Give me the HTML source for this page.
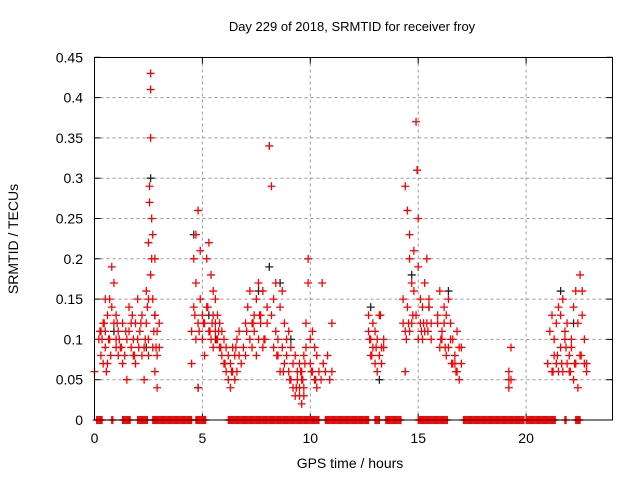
<!DOCTYPE html>
<html><head><meta charset="utf-8"><style>
body{margin:0;background:#fff;}
svg{display:block;font-family:"Liberation Sans",sans-serif;}
</style></head><body>
<svg id="chart" width="640" height="480" viewBox="0 0 640 480">
<text x="352" y="31" font-size="13" text-anchor="middle" fill="#000">Day 229 of 2018, SRMTID for receiver froy</text>
<text x="350" y="468" font-size="14" text-anchor="middle">GPS time / hours</text>
<text transform="translate(18,239) rotate(-90)" font-size="14" text-anchor="middle">SRMTID / TECUs</text>
<g id="grid"></g>
<g id="ticks"></g>
<g id="black"></g>
<g id="red"></g>
<rect x="94.5" y="57.5" width="518" height="362.5" fill="none" stroke="#000" stroke-width="1"/>
</svg>
<script>
const xTicks=[0,5,10,15,20];
const yTicks=[0,0.05,0.1,0.15,0.2,0.25,0.3,0.35,0.4,0.45];
const yTickLabels=["0","0.05","0.1","0.15","0.2","0.25","0.3","0.35","0.4","0.45"];
const hours=[0,0.2,0.3,0.3,0.4,0.4,0.5,0.5,0.5,0.6,0.6,0.7,0.7,0.8,0.8,0.9,0.9,1.0,1.0,1.0,1.1,1.1,1.2,1.3,1.3,1.4,1.5,1.5,1.6,1.6,1.7,1.7,1.8,1.8,1.9,1.9,2.0,2.0,2.1,2.2,2.2,2.3,2.3,2.4,2.4,2.5,2.5,2.5,2.5,2.55,2.55,2.6,2.6,2.6,2.6,2.65,2.65,2.7,2.7,2.7,2.8,2.8,2.8,2.9,2.9,2.9,3.0,3.0,
0.25,0.35,0.45,0.55,0.65,0.75,1.05,1.15,1.25,1.45,1.75,1.85,2.05,2.15,2.35,2.45,2.75,2.85,
4.5,4.5,4.6,4.6,4.7,4.7,4.7,4.8,4.8,4.8,4.9,4.9,5.0,5.0,5.1,5.1,5.2,5.2,5.3,5.3,5.4,5.4,5.5,5.5,5.5,5.6,5.6,5.6,5.7,5.7,5.8,5.8,5.9,5.9,6.0,6.0,6.1,6.1,6.2,6.2,6.3,6.3,6.4,6.4,6.5,6.5,6.6,6.6,6.7,6.7,6.8,6.9,7.0,7.0,7.1,7.2,7.2,7.3,7.3,7.4,7.4,7.5,7.5,7.6,7.6,7.7,7.7,7.8,7.8,7.9,8.0,8.0,8.1,8.2,8.2,8.3,8.3,8.4,8.4,8.5,8.5,8.6,8.6,8.7,8.7,8.8,8.8,8.9,8.9,9.0,9.0,9.1,9.1,9.2,9.2,9.3,9.3,9.4,9.4,9.5,9.5,9.5,9.6,9.6,9.6,9.7,9.7,9.7,9.8,9.8,9.9,9.9,10.0,10.0,10.1,10.1,10.2,10.2,10.3,10.3,10.4,10.5,10.6,10.7,10.8,10.9,11.0,11.0,
4.65,4.85,5.05,5.25,5.35,5.45,5.65,5.75,5.85,6.05,6.35,6.55,7.05,7.35,7.65,7.85,8.45,8.75,9.05,9.35,9.55,9.65,9.75,10.05,10.25,10.55,
12.7,12.7,12.8,12.8,12.9,12.9,13.0,13.0,13.1,13.1,13.2,13.2,13.3,13.3,13.4,13.4,
14.3,14.3,14.4,14.4,14.4,14.5,14.5,14.6,14.6,14.6,14.7,14.7,14.8,14.8,14.9,14.9,14.95,15.0,15.0,15.0,15.1,15.1,15.2,15.2,15.3,15.3,15.4,15.4,15.5,15.5,15.6,15.6,15.9,15.9,16.0,16.0,16.1,16.1,16.2,16.2,16.3,16.3,16.4,16.4,16.5,16.5,16.6,16.6,16.7,16.7,16.8,16.8,16.9,16.9,17.0,17.0,
12.75,12.85,13.05,13.25,14.45,14.55,14.75,15.15,15.25,15.45,16.05,16.25,16.55,16.75,
19.2,19.2,19.2,19.3,19.3,
21.0,21.1,21.2,21.2,21.3,21.3,21.4,21.4,21.5,21.5,21.6,21.6,21.7,21.7,21.8,21.8,21.9,21.9,22.0,22.0,22.1,22.1,22.2,22.2,22.3,22.3,22.4,22.4,22.5,22.5,22.6,22.6,22.7,22.7,22.8,22.8,
21.25,21.45,21.65,21.85,22.05,22.25,22.55,22.65];
const values=[0.06,0.1,0.11,0.08,0.07,0.12,0.09,0.11,0.15,0.07,0.13,0.15,0.1,0.19,0.14,0.17,0.12,0.13,0.09,0.1,0.08,0.11,0.09,0.07,0.12,0.08,0.1,0.05,0.14,0.11,0.12,0.09,0.08,0.1,0.12,0.07,0.15,0.1,0.11,0.13,0.08,0.05,0.09,0.16,0.12,0.1,0.15,0.22,0.08,0.29,0.27,0.43,0.41,0.35,0.18,0.25,0.2,0.23,0.15,0.09,0.2,0.13,0.06,0.11,0.08,0.04,0.09,0.12,
0.11,0.1,0.12,0.06,0.1,0.08,0.12,0.1,0.09,0.11,0.13,0.08,0.09,0.12,0.1,0.14,0.11,0.09,
0.11,0.07,0.14,0.2,0.23,0.1,0.17,0.26,0.12,0.04,0.21,0.15,0.1,0.13,0.12,0.08,0.2,0.14,0.22,0.11,0.18,0.1,0.16,0.13,0.09,0.12,0.15,0.11,0.1,0.13,0.09,0.12,0.08,0.11,0.07,0.1,0.06,0.09,0.05,0.08,0.04,0.07,0.06,0.09,0.05,0.08,0.06,0.1,0.08,0.11,0.07,0.09,0.12,0.08,0.14,0.1,0.16,0.12,0.09,0.11,0.13,0.08,0.15,0.1,0.17,0.12,0.13,0.09,0.16,0.1,0.12,0.14,0.34,0.29,0.13,0.09,0.15,0.17,0.11,0.08,0.1,0.06,0.14,0.09,0.16,0.12,0.07,0.1,0.08,0.11,0.06,0.09,0.05,0.07,0.04,0.08,0.03,0.06,0.05,0.03,0.07,0.04,0.02,0.06,0.05,0.03,0.08,0.04,0.09,0.12,0.2,0.17,0.1,0.07,0.11,0.06,0.09,0.05,0.08,0.04,0.06,0.05,0.07,0.06,0.08,0.05,0.06,
0.12,0.13,0.11,0.12,0.14,0.11,0.12,0.1,0.11,0.09,0.07,0.06,0.09,0.11,0.12,0.13,0.1,0.08,0.06,0.05,0.04,0.06,0.05,0.07,0.06,0.05,
0.17,0.11,0.13,0.1,0.08,0.12,0.09,0.07,0.11,0.06,0.1,0.08,0.13,0.09,0.07,0.1,
0.09,0.12,0.15,0.11,0.06,0.29,0.26,0.14,0.2,0.11,0.23,0.17,0.12,0.16,0.21,0.13,0.37,0.31,0.25,0.1,0.19,0.15,0.12,0.1,0.14,0.11,0.17,0.12,0.2,0.15,0.14,0.12,0.1,0.13,0.12,0.09,0.16,0.11,0.1,0.14,0.12,0.08,0.13,0.09,0.15,0.1,0.12,0.07,0.1,0.08,0.07,0.11,0.06,0.09,0.05,0.07,
0.09,0.1,0.08,0.09,0.13,0.1,0.12,0.13,0.11,0.12,0.11,0.1,0.09,0.07,
0.06,0.05,0.04,0.06,0.05,
0.09,0.07,0.11,0.06,0.13,0.08,0.1,0.07,0.12,0.06,0.14,0.09,0.13,0.06,0.15,0.1,0.11,0.07,0.12,0.08,0.06,0.09,0.1,0.05,0.14,0.07,0.16,0.04,0.12,0.08,0.18,0.13,0.16,0.07,0.1,0.06,
0.07,0.06,0.08,0.07,0.09,0.06,0.07,0.08];
const blackHours=[0.9,2.4,2.6,2.8,4.6,4.8,5.3,5.6,7.6,8.1,8.6,9.1,12.8,13.2,14.7,14.95,15.5,16.4,21.6,22.2];
const blackValues=[0.11,0.09,0.3,0.13,0.23,0.04,0.13,0.1,0.16,0.19,0.17,0.1,0.14,0.05,0.18,0.31,0.14,0.16,0.16,0.12];
const zeroStarts=[0.1,0.8,1.3,2.0,2.7,4.7,6.2,10.7,13.0,13.5,15.0,17.1,20.0,21.8,22.3];
const zeroEnds=[0.35,0.85,1.65,2.45,4.5,5.15,10.4,12.7,13.2,14.2,16.35,19.9,21.35,21.85,22.5];

const X=h=>94.5+h*21.58, Y=v=>420-v*806;
const NS="http://www.w3.org/2000/svg";
function mk(tag,attrs,parent){const e=document.createElementNS(NS,tag);for(const k in attrs)e.setAttribute(k,attrs[k]);parent.appendChild(e);return e;}
const grid=document.getElementById('grid'),ticks=document.getElementById('ticks');
xTicks.forEach(t=>{
  const x=X(t);
  if(t>0){const g=mk('line',{x1:x,y1:57.5,x2:x,y2:420,stroke:'#999','stroke-dasharray':'3,3'},grid);
  
  }
  const l=mk('line',{x1:x,y1:420,x2:x,y2:414,stroke:'#000'},ticks);
  const l2=mk('line',{x1:x,y1:57.5,x2:x,y2:63.5,stroke:'#000'},ticks);
  const tx=mk('text',{x:x,y:443,'font-size':14,'text-anchor':'middle'},ticks);tx.textContent=t;
  
  
});
yTicks.forEach((t,i)=>{
  const y=Y(t);
  if(t>0&&t<0.45){const g=mk('line',{x1:94.5,y1:y,x2:612.5,y2:y,stroke:'#999','stroke-dasharray':'3,3'},grid);
  
  }
  const l=mk('line',{x1:94.5,y1:y,x2:100.5,y2:y,stroke:'#000'},ticks);
  const l2=mk('line',{x1:612.5,y1:y,x2:606.5,y2:y,stroke:'#000'},ticks);
  const tx=mk('text',{x:83,y:y+5,'font-size':14,'text-anchor':'end'},ticks);tx.textContent=yTickLabels[i];
  
  
});
function cross(parent,h,v,col){
  const x=X(h),y=Y(v);
  return mk('path',{d:`M${x-4},${y}h8M${x},${y-4}v8`,stroke:col,'stroke-width':1.3,fill:'none'},parent);
}
const blk=document.getElementById('black'),red=document.getElementById('red');
blackHours.forEach((h,i)=>{const p=cross(blk,h,blackValues[i],'#222');
  
  });
hours.forEach((h,i)=>{const p=cross(red,h,values[i],'#f00');
  
  });
zeroStarts.forEach((s,i)=>{for(let h=s;h<=zeroEnds[i]+1e-6;h+=0.05){const p=cross(red,h,0,'#f00');
  
  }});
</script>
</body></html>
